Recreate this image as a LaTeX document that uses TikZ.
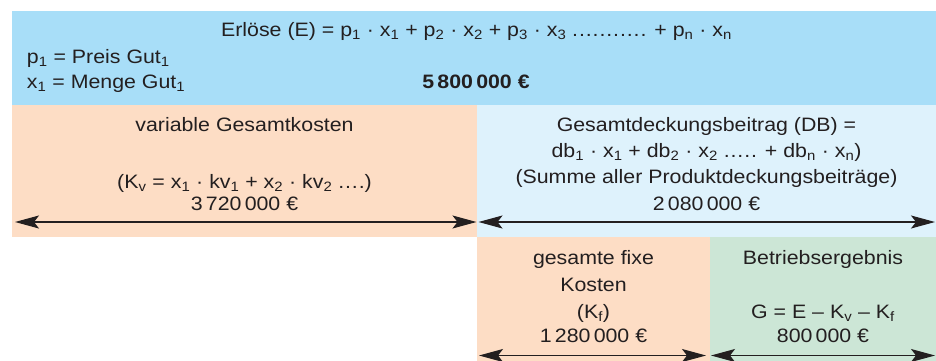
\documentclass[tikz,border=0pt]{standalone}
\usepackage{fontspec}
\setmainfont{Liberation Sans}[FakeStretch=1.1]
\usetikzlibrary{arrows.meta}
\definecolor{topblue}{RGB}{168,222,248}
\definecolor{lightblue}{RGB}{222,242,252}
\definecolor{peach}{RGB}{253,221,197}
\definecolor{mint}{RGB}{204,230,214}
\definecolor{ink}{RGB}{35,31,32}
\newcommand\sbs[1]{\textsubscript{#1}}
\newcommand\dt{.\kern0.9pt}
\tikzset{
  panel/.style={draw=none, inner sep=0pt, outer sep=0pt, anchor=north west},
  lbl/.style={inner sep=0pt, outer sep=0pt, anchor=base, text=ink, font=\fontsize{19.4}{26}\selectfont},
  dimarrow/.style={line width=1.1pt, ink, {Stealth[length=24pt,width=13pt,inset=5pt]}-{Stealth[length=24pt,width=13pt,inset=5pt]}}
}
\begin{document}
\begin{tikzpicture}[x=1pt,y=-1pt]
\useasboundingbox (0,0) rectangle (936,361);
% panels
\node[panel, fill=topblue, minimum width=924pt, minimum height=94pt] (top) at (12,11) {};
\node[panel, fill=peach, minimum width=465pt, minimum height=132pt] (vk) at (12,105) {};
\node[panel, fill=lightblue, minimum width=459pt, minimum height=132pt] (db) at (477,105) {};
\node[panel, fill=peach, minimum width=233pt, minimum height=124pt] (fk) at (477,237) {};
\node[panel, fill=mint, minimum width=226pt, minimum height=124pt] (be) at (710,237) {};
% top texts
\node[lbl] (erl) at (476.5,36.7) {Erlöse (E) = p\sbs{1} · x\sbs{1} + p\sbs{2} · x\sbs{2} + p\sbs{3} · x\sbs{3} \dt\dt\dt\dt\dt\dt\dt\dt\dt\dt. + p\sbs{n} · x\sbs{n}};
\node[lbl, anchor=base west] (preis) at (27,63.3) {p\sbs{1} = Preis Gut\sbs{1}};
\node[lbl, anchor=base west] (menge) at (27,88.3) {x\sbs{1} = Menge Gut\sbs{1}};
\node[lbl, font=\fontsize{19.4}{26}\selectfont\bfseries] (erlw) at (476,88.3) {5\,800\,000 €};
% variable costs
\node[lbl] (vk1) at (244.5,131.7) {variable Gesamtkosten};
\node[lbl] (vk2) at (244.5,188) {(K\sbs{v} = x\sbs{1} · kv\sbs{1} + x\sbs{2} · kv\sbs{2} \dt\dt\dt.)};
\node[lbl] (vk3) at (244.5,210.7) {3\,720\,000 €};
% DB
\node[lbl] (db1) at (706.5,131) {Gesamtdeckungsbeitrag (DB) =};
\node[lbl] (db2) at (706.5,157.3) {db\sbs{1} · x\sbs{1} + db\sbs{2} · x\sbs{2} \dt\dt\dt\dt. + db\sbs{n} · x\sbs{n})};
\node[lbl] (db3) at (706.5,183.3) {(Summe aller Produktdeckungsbeiträge)};
\node[lbl] (db4) at (706.5,210.7) {2\,080\,000 €};
% fixed costs
\node[lbl] (fk1) at (593.5,264.3) {gesamte fixe};
\node[lbl] (fk2) at (593.5,291) {Kosten};
\node[lbl] (fk3) at (593.5,318) {(K\sbs{f})};
\node[lbl] (fk4) at (593.5,342.3) {1\,280\,000 €};
% Betriebsergebnis
\node[lbl] (be1) at (823,264.3) {Betriebsergebnis};
\node[lbl] (be2) at (823,318) {G = E – K\sbs{v} – K\sbs{f}};
\node[lbl] (be3) at (823,342.3) {800\,000 €};
% arrows
\coordinate (a1) at (15,222);
\coordinate (a2) at (476.5,222);
\coordinate (b1) at (478.5,222);
\coordinate (b2) at (935,222);
\coordinate (c1) at (479,355.5);
\coordinate (c2) at (706,355.5);
\coordinate (d1) at (711,355.5);
\coordinate (d2) at (935,355.5);
\draw[dimarrow] (a1) -- (a2);
\draw[dimarrow] (b1) -- (b2);
\draw[dimarrow] (c1) -- (c2);
\draw[dimarrow] (d1) -- (d2);
\end{tikzpicture}
\end{document}
